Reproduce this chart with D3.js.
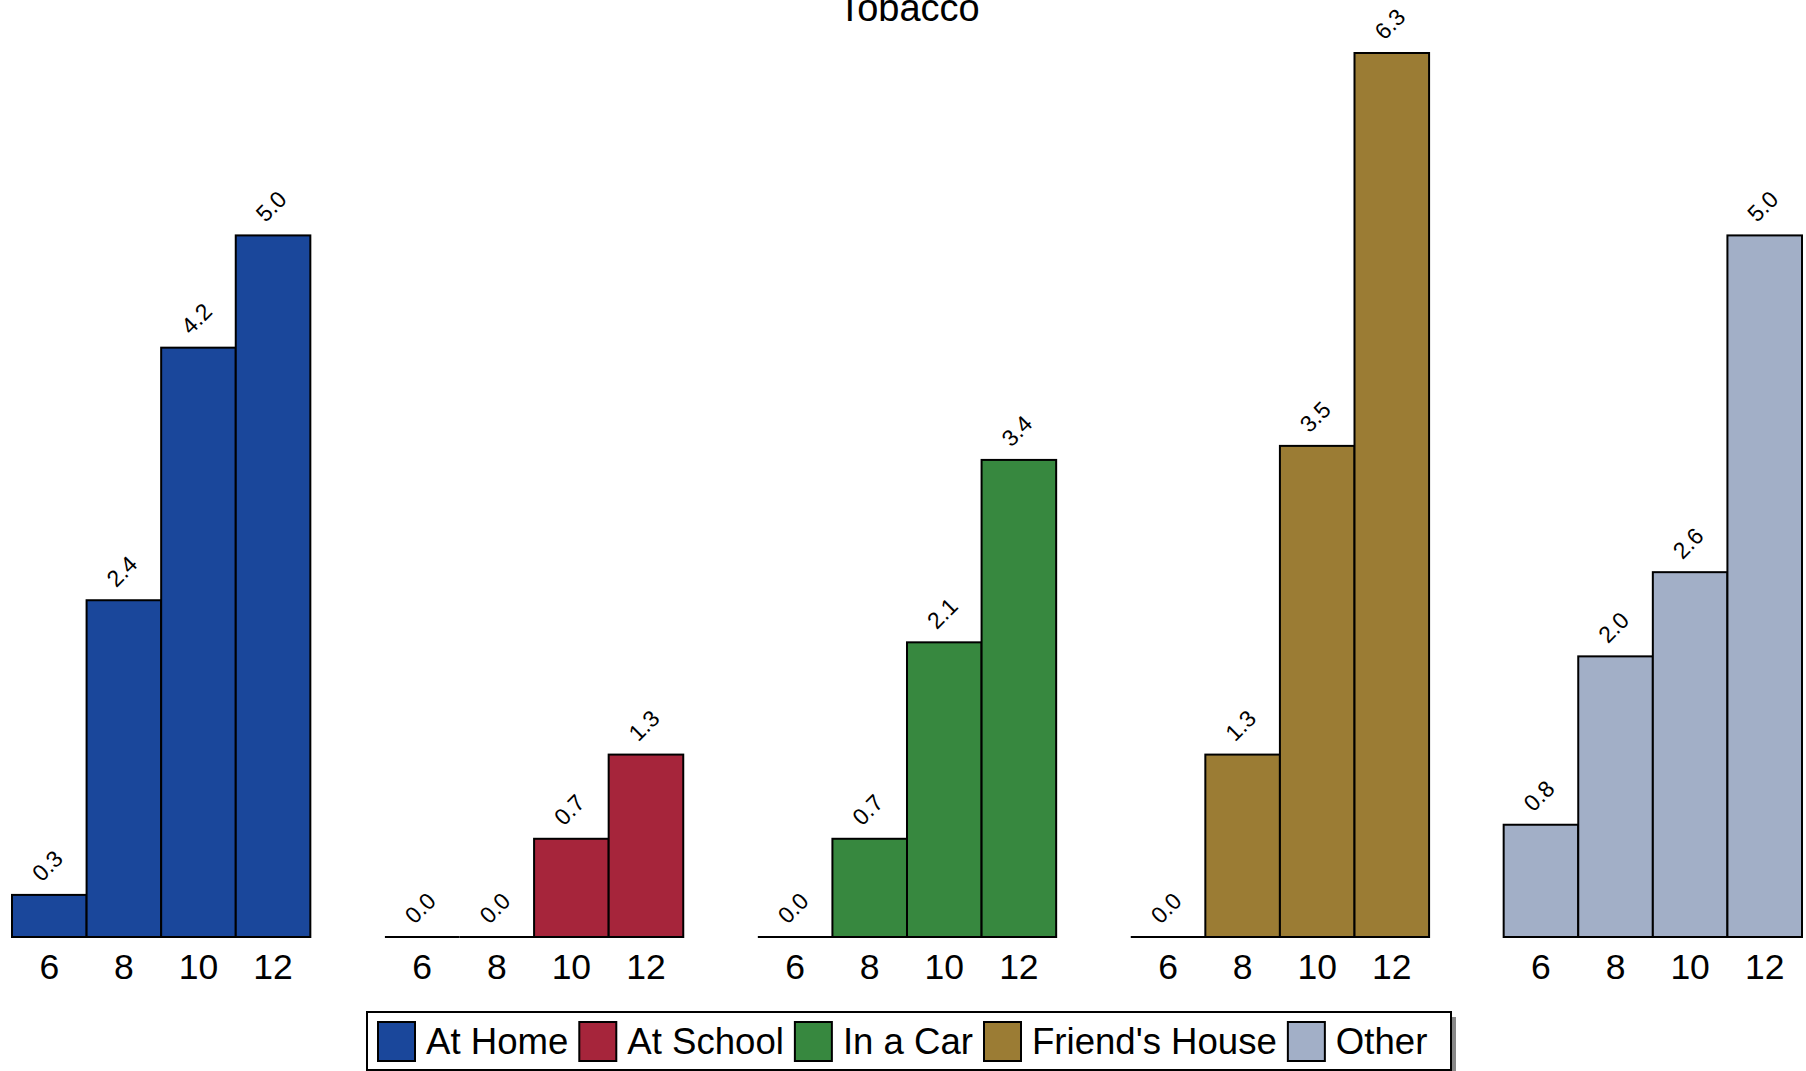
<!DOCTYPE html>
<html>
<head>
<meta charset="utf-8">
<script src="https://cdn.jsdelivr.net/npm/d3@7"></script>
<style>
  html, body { margin: 0; padding: 0; background: #fff; }
  svg { display: block; font-family: "Liberation Sans", Arial, sans-serif; }
</style>
</head>
<body>
<svg id="chart" width="1806" height="1071"></svg>
<script>
const title = "Tobacco";
const categories = ["At Home", "At School", "In a Car", "Friend's House", "Other"];
const ages = ["6", "8", "10", "12"];
const atHome = [0.3, 2.4, 4.2, 5.0];
const atSchool = [0.0, 0.0, 0.7, 1.3];
const inACar = [0.0, 0.7, 2.1, 3.4];
const friendsHouse = [0.0, 1.3, 3.5, 6.3];
const other = [0.8, 2.0, 2.6, 5.0];
const colors = ["#1a479b", "#a6253b", "#37883f", "#9b7c34", "#a2afc7"];

const seriesValues = [atHome, atSchool, inACar, friendsHouse, other];

const svg = d3.select("#chart");

const x0 = d3.scaleBand().domain(categories).range([12, 1802]).paddingInner(0.2).paddingOuter(0);
const x1 = d3.scaleBand().domain(ages).range([0, x0.bandwidth()]).padding(0);
const y = d3.scaleLinear().domain([0, 6.3]).range([937, 53]);

// title
svg.append("text")
  .attr("x", 909).attr("y", 21)
  .attr("text-anchor", "middle")
  .attr("font-size", 38)
  .attr("fill", "#000")
  .text(title);

categories.forEach((cat, ci) => {
  const g = svg.append("g").attr("transform", `translate(${x0(cat)},0)`);
  const data = ages.map((a, i) => ({ age: a, value: seriesValues[ci][i] }));
  g.selectAll("rect.bar").data(data.filter(d => d.value > 0)).enter().append("rect")
    .attr("class", "bar")
    .attr("x", d => x1(d.age))
    .attr("y", d => y(d.value))
    .attr("width", x1.bandwidth())
    .attr("height", d => y(0) - y(d.value))
    .attr("fill", colors[ci])
    .attr("stroke", "#000")
    .attr("stroke-width", 2);

  // zero-height bars appear as a line at the baseline
  g.selectAll("line.zero").data(data.filter(d => d.value === 0)).enter().append("line")
    .attr("class", "zero")
    .attr("x1", d => x1(d.age))
    .attr("x2", d => x1(d.age) + x1.bandwidth())
    .attr("y1", y(0)).attr("y2", y(0))
    .attr("stroke", "#000")
    .attr("stroke-width", 2);

  g.selectAll("text.val").data(data).enter().append("text")
    .attr("class", "val")
    .attr("transform", d => `translate(${x1(d.age) + x1.bandwidth() / 2 - 2},${y(d.value) - 29}) rotate(-45)`)
    .attr("text-anchor", "middle")
    .attr("dominant-baseline", "central")
    .attr("font-size", 23)
    .attr("fill", "#000")
    .text(d => d.value.toFixed(1));

  const axis = d3.axisBottom(x1).tickSize(0).tickPadding(0);
  const ag = g.append("g").attr("transform", `translate(0,${y(0)})`).call(axis);
  ag.select(".domain").remove();
  ag.selectAll("text")
    .attr("font-size", 35.5)
    .attr("font-family", "'Liberation Sans', Arial, sans-serif")
    .attr("fill", "#000")
    .attr("dy", null)
    .attr("y", 42);
});

// legend
const lg = svg.append("g");
lg.append("rect").attr("x", 372).attr("y", 1017).attr("width", 1084).attr("height", 60).attr("fill", "#888");
lg.append("rect").attr("x", 367).attr("y", 1012).attr("width", 1084).attr("height", 58)
  .attr("fill", "#fff").attr("stroke", "#000").attr("stroke-width", 2);
let lx = 378;
categories.forEach((cat, ci) => {
  lg.append("rect").attr("x", lx).attr("y", 1022).attr("width", 37).attr("height", 39)
    .attr("fill", colors[ci]).attr("stroke", "#000").attr("stroke-width", 2);
  const t = lg.append("text").attr("x", lx + 48).attr("y", 1054)
    .attr("font-size", 36.6).attr("fill", "#000").text(cat);
  lx += 48 + t.node().getComputedTextLength() + 11;
});
</script>
</body>
</html>
